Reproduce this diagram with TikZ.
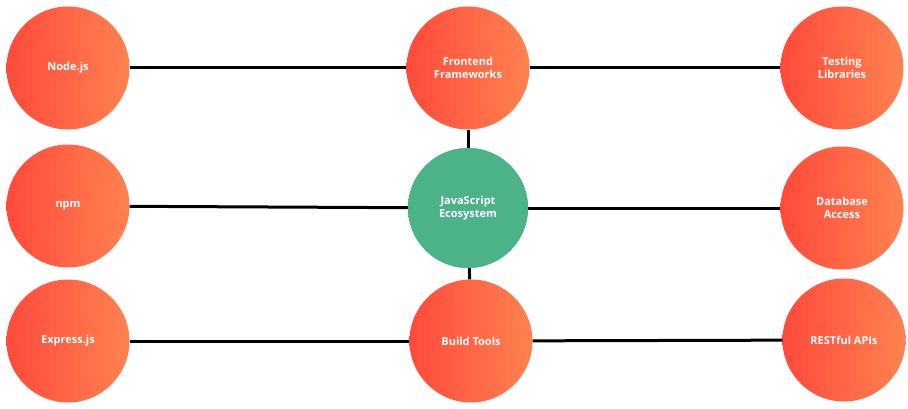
\documentclass[tikz,border=0pt]{standalone}
\usepackage{fontspec}
\setmainfont{Open Sans}
\usepackage{xcolor}
\usepackage{tikz}
\usetikzlibrary{calc}
\definecolor{bg}{HTML}{FFFFFF}
\definecolor{hotL}{HTML}{FF4A3B}
\definecolor{hotR}{HTML}{FF8250}
\definecolor{core}{HTML}{4CB388}
\definecolor{link}{HTML}{000000}
\tikzset{
  topic/.style={circle, minimum size=123pt, inner sep=0pt, left color=hotL, right color=hotR,
    text=white, font=\fontsize{11}{13}\selectfont\bfseries, align=center},
  hub/.style={topic, minimum size=120pt, fill=core, left color=core, right color=core},
  wire/.style={draw=link, line width=3pt}
}
\begin{document}
\begin{tikzpicture}[x=1pt,y=1pt]
  \useasboundingbox[fill=bg] (0,0) rectangle (908,408);
  % left column
  \node[topic] (node) at (68,340) {Node.js};
  \node[topic] (npm) at (68,202) {npm};
  \node[topic] (express) at (68,67) {Express.js};
  % middle column
  \node[topic] (front) at (468,340) {Frontend\\Frameworks};
  \node[hub] (eco) at (468,200) {JavaScript\\Ecosystem};
  \node[topic] (build) at (471,67) {Build Tools};
  % right column
  \node[topic] (test) at (842,340) {Testing\\Libraries};
  \node[topic] (db) at (842,200) {Database\\Access};
  \node[topic] (rest) at (844,68) {RESTful APIs};
  % links
  \draw[wire] (node) -- (front);
  \draw[wire] (front) -- (test);
  \draw[wire] (npm) -- (eco);
  \draw[wire] (eco) -- (db);
  \draw[wire] (express) -- (build);
  \draw[wire] (build) -- (rest);
  \draw[wire] (front) -- (eco);
  \draw[wire] (eco) -- (build);
\end{tikzpicture}
\end{document}
